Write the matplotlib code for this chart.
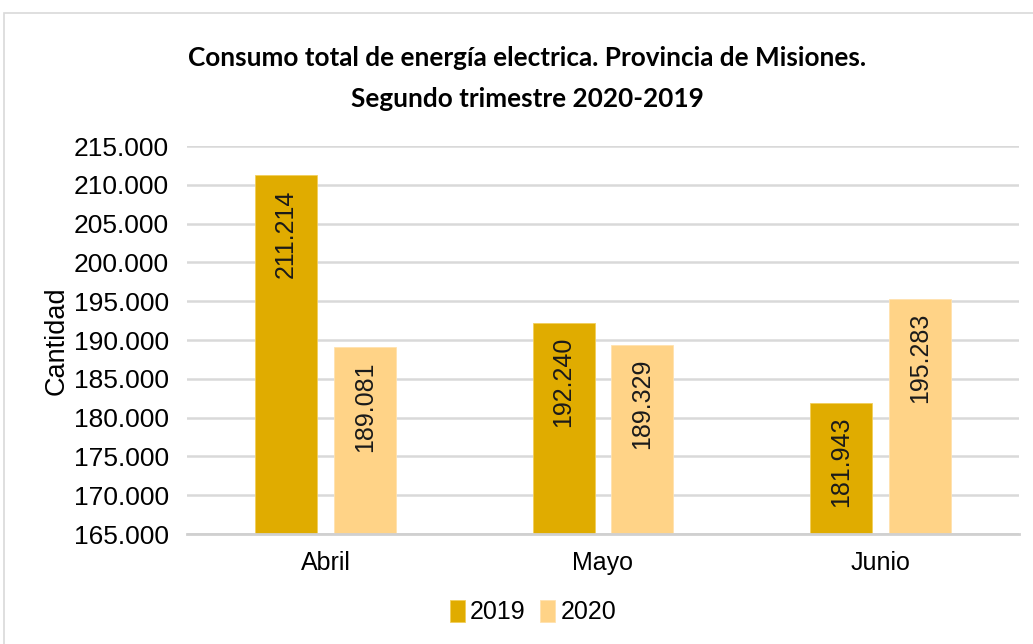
import matplotlib.pyplot as plt
import numpy as np
from matplotlib.patches import Rectangle
from matplotlib.ticker import FuncFormatter

meses = ["Abril", "Mayo", "Junio"]
valores_2019 = [211214, 192240, 181943]
valores_2020 = [189081, 189329, 195283]
series = ["2019", "2020"]

color_2019 = "#E0AC00"
color_2020 = "#FFD387"

plt.rcParams["font.family"] = ["Liberation Sans", "DejaVu Sans"]

fig = plt.figure(figsize=(10.33, 6.44), dpi=100)
fig.patches.append(Rectangle((4 / 1033, -0.1), 1.2, 1 - 13 / 644 + 0.1,
                             transform=fig.transFigure, fill=False,
                             edgecolor="#D9D9D9", linewidth=1.2))

ax = fig.add_axes([187 / 1033, 1 - 534 / 644, (1019 - 187) / 1033, (534 - 146) / 644])

x = np.arange(len(meses))
w = 0.2236
off = 0.1424
b1 = ax.bar(x - off, valores_2019, w, color=color_2019, edgecolor="#F2CF5A",
            linewidth=0.6, label=series[0], zorder=3)
b2 = ax.bar(x + off, valores_2020, w, color=color_2020, edgecolor="#FFE2AE",
            linewidth=0.6, label=series[1], zorder=3)

fmt = lambda v: f"{v:,.0f}".replace(",", ".")
for bars in (b1, b2):
    for rect in bars:
        v = rect.get_height()
        ax.annotate(fmt(v), (rect.get_x() + rect.get_width() / 2, v),
                    xytext=(0, -10), textcoords="offset points",
                    rotation=90, ha="center", va="top", fontsize=18,
                    color="#1a1a1a", zorder=4)

ax.set_ylim(165000, 215000)
ax.set_xlim(-0.5, 2.5)
ax.set_yticks(np.arange(165000, 215001, 5000))
ax.yaxis.set_major_formatter(FuncFormatter(lambda v, p: fmt(v)))
ax.set_xticks(x)
ax.set_xticklabels(meses)
ax.tick_params(axis="both", length=0, labelsize=18, colors="black")
ax.tick_params(axis="y", labelsize=19, pad=13)
ax.tick_params(axis="x", pad=12)
ax.grid(axis="y", color="#D9D9D9", linewidth=1.8, zorder=0)
for s in ("top", "right", "left"):
    ax.spines[s].set_visible(False)
ax.spines["bottom"].set_color("#D0D0D0")
ax.spines["bottom"].set_linewidth(2)
ax.spines["bottom"].set_zorder(5)

fig.text(57 / 1033, 1 - 341 / 644, "Cantidad", rotation=90, ha="center",
         va="center", fontsize=19.5)

fig.text(527 / 1033, 1 - 58 / 644,
         "Consumo total de energía electrica. Provincia de Misiones.",
         ha="center", va="center", fontsize=18.8, fontweight="bold",
         family=["Lato", "DejaVu Sans"])
fig.text(527 / 1033, 1 - 99 / 644, "Segundo trimestre 2020-2019",
         ha="center", va="center", fontsize=18.8, fontweight="bold",
         family=["Lato", "DejaVu Sans"])

fig.legend(handles=[b1, b2], labels=series, loc="center",
           bbox_to_anchor=(533 / 1033, 1 - 612 / 644), ncol=2, frameon=False,
           fontsize=18, handlelength=0.6, handleheight=1.0, handletextpad=0.2,
           columnspacing=0.6)

fig.savefig("out.png", dpi=100)
